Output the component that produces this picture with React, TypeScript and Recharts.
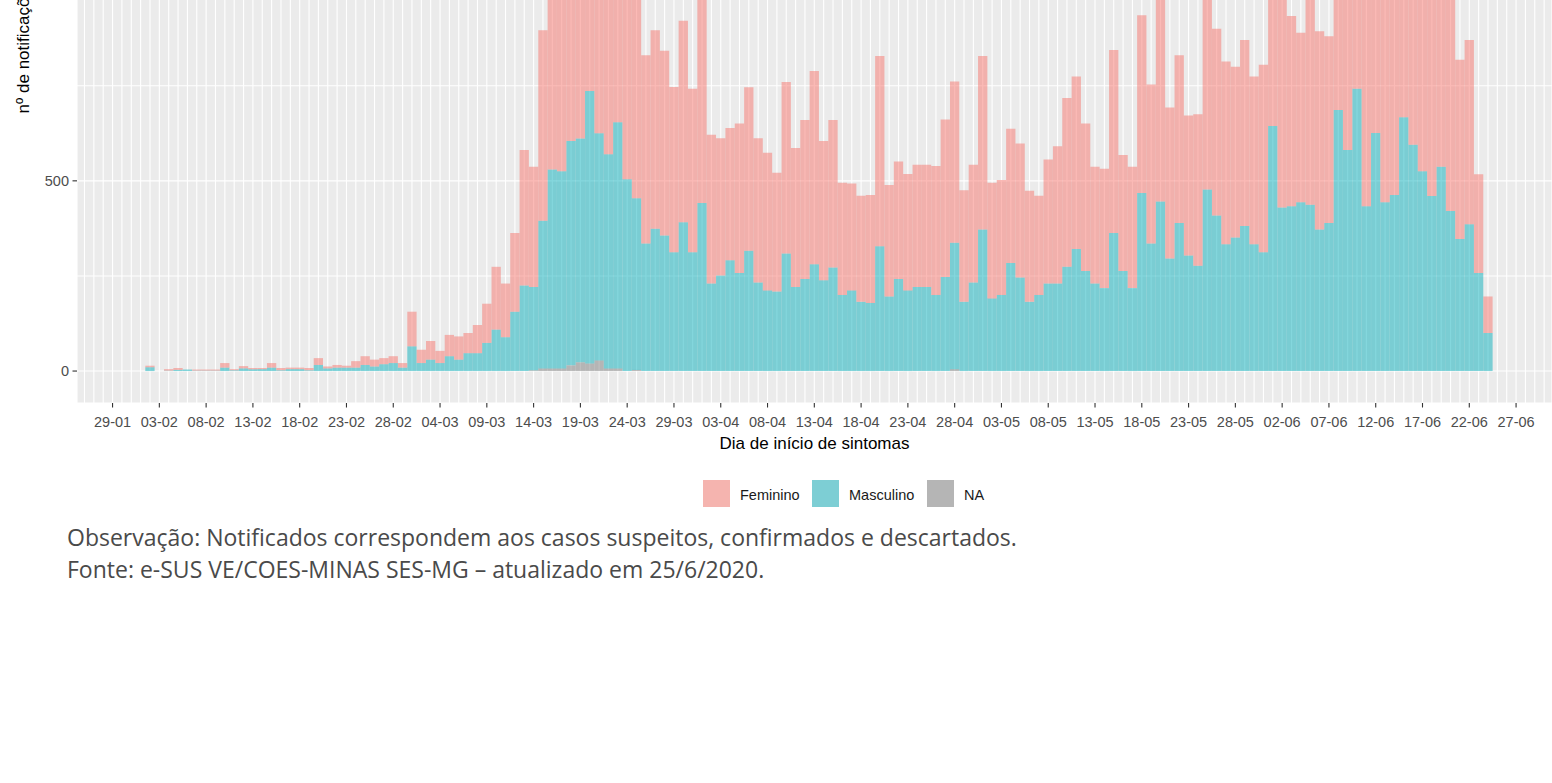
import { BarChart, Bar, XAxis, YAxis, CartesianGrid, Label } from 'recharts';

// dias contados a partir de 29-01; a primeira barra é 02-02
const primeiroDia = 4;

const rotulosX = [
  '29-01', '03-02', '08-02', '13-02', '18-02', '23-02', '28-02', '04-03', '09-03', '14-03', '19-03',
  '24-03', '29-03', '03-04', '08-04', '13-04', '18-04', '23-04', '28-04', '03-05', '08-05', '13-05',
  '18-05', '23-05', '28-05', '02-06', '07-06', '12-06', '17-06', '22-06', '27-06',
];

const masculino = [
  10, 0, 1, 3, 4, 1, 1, 1, 9, 2, 7, 5, 5, 9, 2, 5, 5, 2, 16, 7, 9, 9, 9, 16, 12, 18, 21, 9,
  65, 21, 30, 21, 39, 30, 47, 47, 74, 109, 89, 156, 225, 219, 388, 523, 518, 590, 588, 716, 597, 563, 647, 504, 451, 335, 374, 356, 312, 391, 312,
  442, 230, 251, 291, 258, 316, 233, 212, 209, 309, 221, 242, 281, 239, 272, 200, 212, 182, 179, 328, 196, 242, 212, 221, 221, 200, 247, 332, 182, 233,
  372, 191, 200, 284, 246, 182, 200, 230, 230, 274, 321, 263, 230, 218, 363, 263, 218, 468, 335, 446, 296, 389, 304, 277, 477, 409, 333, 351, 381, 333, 312,
  644, 430, 433, 444, 437, 372, 389, 686, 581, 742, 433, 626, 444, 463, 667, 595, 525, 460, 537, 421, 347, 386, 258, 100,
];

const feminino = [
  4, 0, 4, 5, 0, 3, 3, 3, 12, 3, 6, 3, 3, 12, 6, 4, 4, 6, 18, 5, 7, 5, 17, 23, 18, 16, 18, 12,
  91, 35, 49, 32, 56, 61, 53, 74, 103, 165, 141, 207, 356, 316, 501, 670, 825, 875, 949, 944, 895, 830, 796, 746, 646, 495, 522, 486, 435, 530, 430,
  608, 391, 361, 348, 393, 430, 379, 362, 312, 451, 365, 418, 508, 366, 388, 295, 281, 279, 284, 500, 293, 309, 306, 321, 321, 339, 414, 424, 293, 309,
  456, 304, 302, 353, 352, 292, 261, 326, 361, 444, 453, 388, 307, 314, 481, 305, 319, 467, 418, 614, 397, 441, 368, 398, 603, 491, 481, 449, 489, 441, 493,
  506, 590, 500, 445, 563, 521, 491, 614, 619, 658, 667, 624, 606, 617, 633, 655, 625, 590, 613, 579, 471, 484, 259, 96,
];

const naoInformado = [
  0, 0, 0, 0, 0, 0, 0, 0, 0, 0, 0, 0, 0, 0, 0, 0, 0, 0, 0, 0, 0, 0, 0, 0, 0, 0, 0, 0,
  0, 0, 0, 0, 0, 0, 0, 0, 0, 0, 0, 0, 0, 2, 7, 7, 7, 15, 23, 20, 28, 7, 7, 0, 3, 0, 0, 0, 0, 0, 0,
  0, 0, 0, 0, 0, 0, 0, 0, 0, 0, 0, 0, 0, 0, 0, 0, 0, 0, 0, 0, 0, 0, 0, 0, 0, 0, 0, 5, 0, 0,
  0, 0, 0, 0, 0, 0, 0, 0, 0, 0, 0, 0, 0, 0, 0, 0, 0, 0, 0, 0, 0, 0, 0, 0, 0, 0, 0, 0, 0, 0, 0,
  0, 0, 0, 0, 0, 0, 0, 0, 0, 0, 0, 0, 0, 0, 0, 0, 0, 0, 0, 0, 0, 0, 0, 0,
];

const dados = masculino.map((m, i) => ({
  dia: primeiroDia + i,
  Feminino: feminino[i],
  Masculino: m,
  NA: naoInformado[i],
}));

const ticksX = Array.from({ length: 157 }, (_, k) => k - 3);
const ticksY = [0, 250, 500, 750, 1000, 1250, 1500, 1750];

const fonte = '"Liberation Sans", Arial, sans-serif';

function TickX(props: any) {
  const { x, y, payload } = props;
  const v = payload.value;
  if (v % 5 !== 0 || v < 0 || v > 150) return <g />;
  return (
    <g>
      <line x1={x} x2={x} y1={y} y2={y + 4.5} stroke="#333333" strokeWidth={1.1} />
      <text x={x} y={y + 24} textAnchor="middle" fill="#4D4D4D" fontSize={14.5} fontFamily={fonte}>
        {rotulosX[v / 5]}
      </text>
    </g>
  );
}

function TickY(props: any) {
  const { x, y, payload } = props;
  if (payload.value % 500 !== 0) return <g />;
  return (
    <g>
      <line x1={x - 4.5} x2={x} y1={y} y2={y} stroke="#333333" strokeWidth={1.1} />
      <text x={x - 8} y={y} dy="0.36em" textAnchor="end" fill="#4D4D4D" fontSize={14.5} fontFamily={fonte}>
        {payload.value}
      </text>
    </g>
  );
}

const legenda = [
  { nome: 'Feminino', cor: '#F5B4AF', x: 703 },
  { nome: 'Masculino', cor: '#7DCED4', x: 812 },
  { nome: 'NA', cor: '#B5B5B5', x: 927 },
];

export default function App() {
  return (
    <div style={{ position: 'absolute', left: 0, top: 0, width: 1552, height: 783, overflow: 'hidden', background: '#fff' }}>
      <div style={{ position: 'absolute', left: 0, top: -300 }}>
        <BarChart width={1552} height={763} data={dados} margin={{ top: 0, right: 0, bottom: 0, left: 0 }}>
          <CartesianGrid fill="#EBEBEB" stroke="#FFFFFF" strokeWidth={1.1} />
          <XAxis
            dataKey="dia"
            type="number"
            domain={[-3.8, 153.84]}
            allowDataOverflow
            ticks={ticksX}
            interval={0}
            tick={<TickX />}
            tickLine={false}
            axisLine={false}
            tickSize={0}
            tickMargin={0}
            height={60}
          >
            <Label
              content={(p: any) => (
                <text
                  x={p.viewBox.x + p.viewBox.width / 2}
                  y={p.viewBox.y + 46}
                  textAnchor="middle"
                  fontSize={17}
                  fill="#000"
                  fontFamily={fonte}
                >
                  Dia de início de sintomas
                </text>
              )}
            />
          </XAxis>
          <YAxis
            type="number"
            domain={[-84, 1764]}
            allowDataOverflow
            ticks={ticksY}
            interval={0}
            tick={<TickY />}
            tickLine={false}
            axisLine={false}
            tickSize={0}
            tickMargin={0}
            width={77}
          >
            <Label
              content={(p: any) => {
                const cy = p.viewBox.y + p.viewBox.height / 2 - 5;
                return (
                  <text
                    x={28.5}
                    y={cy}
                    transform={`rotate(-90, 28.5, ${cy})`}
                    textAnchor="middle"
                    fontSize={17}
                    fill="#000"
                    fontFamily={fonte}
                  >
                    nº de notificações
                  </text>
                );
              }}
            />
          </YAxis>
          <Bar dataKey="NA" stackId="s" fill="#7F7F7F" fillOpacity={0.5} barSize={9.3} isAnimationActive={false} />
          <Bar dataKey="Masculino" stackId="s" fill="#0AB0BC" fillOpacity={0.5} barSize={9.3} isAnimationActive={false} />
          <Bar dataKey="Feminino" stackId="s" fill="#F8766D" fillOpacity={0.5} barSize={9.3} isAnimationActive={false} />
        </BarChart>
      </div>

      {legenda.map((l) => (
        <div key={l.nome}>
          <div style={{ position: 'absolute', left: l.x, top: 480, width: 27, height: 27, background: l.cor }} />
          <div
            style={{
              position: 'absolute',
              left: l.x + 37,
              top: 485,
              fontFamily: fonte,
              fontSize: 14.5,
              lineHeight: '20px',
              color: '#1A1A1A',
            }}
          >
            {l.nome}
          </div>
        </div>
      ))}

      <div
        style={{
          position: 'absolute',
          left: 67,
          top: 521,
          fontFamily: '"Open Sans", sans-serif',
          fontSize: 23,
          lineHeight: '32px',
          color: '#4A4A4A',
          whiteSpace: 'nowrap',
        }}
      >
        <div>Observação: Notificados correspondem aos casos suspeitos, confirmados e descartados.</div>
        <div>Fonte: e-SUS VE/COES-MINAS SES-MG – atualizado em 25/6/2020.</div>
      </div>
    </div>
  );
}
